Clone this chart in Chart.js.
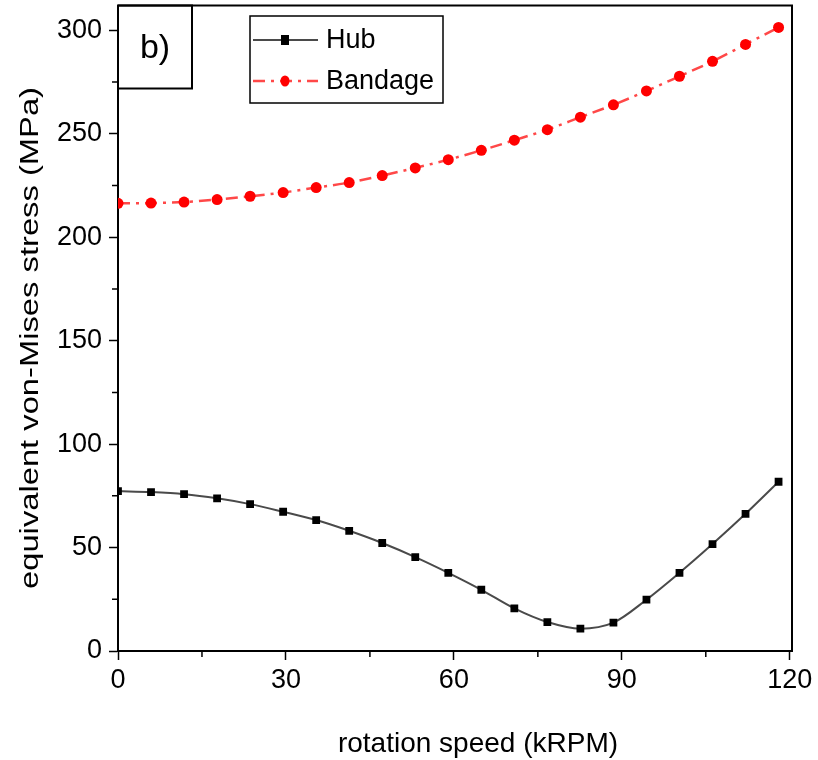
<!DOCTYPE html>
<html>
<head>
<meta charset="utf-8">
<script src="https://cdn.jsdelivr.net/npm/chart.js@4.4.1/dist/chart.umd.min.js"></script>
<style>
  html, body { margin: 0; padding: 0; background: #ffffff; }
  #wrap { width: 818px; height: 760px; position: relative; }
</style>
</head>
<body>
<div id="wrap"><canvas id="c" width="818" height="760"></canvas></div>
<script>
// ---- data ----
const speedKRPM = [0, 5.9, 11.8, 17.7, 23.6, 29.5, 35.4, 41.3, 47.2, 53.1, 59.0,
                   64.9, 70.8, 76.7, 82.6, 88.5, 94.4, 100.3, 106.2, 112.1, 118.0];
const hubStress = [77.3, 76.8, 75.8, 73.8, 71.0, 67.3, 63.3, 58.1, 52.2, 45.4, 37.8,
                   29.6, 20.6, 14.0, 10.8, 13.7, 24.8, 37.8, 51.7, 66.3, 81.8];
const bandageStress = [216.4, 216.5, 217.0, 218.2, 219.8, 221.6, 224.0, 226.4, 229.8, 233.5, 237.5,
                       242.0, 246.9, 252.0, 258.0, 264.0, 270.7, 277.8, 285.0, 293.2, 301.4];
const seriesNames = ["Hub", "Bandage"];
const xMajorTicks = [0, 30, 60, 90, 120];
const yMajorTicks = [0, 50, 100, 150, 200, 250, 300];
const xTitle = "rotation speed (kRPM)";
const yTitle = "equivalent von-Mises stress (MPa)";
const panelLabel = "b)";

const FONT = "'Liberation Sans', Arial, sans-serif";

function pts(xs, ys) { return xs.map((x, i) => ({ x: x, y: ys[i] })); }

const framePlugin = {
  id: 'framePlugin',
  afterDraw(chart) {
    const ctx = chart.ctx;
    const a = chart.chartArea;
    const xs = chart.scales.x, ys = chart.scales.y;
    ctx.save();
    // top and right frame
    ctx.strokeStyle = '#000';
    ctx.lineWidth = 2;
    ctx.beginPath();
    ctx.moveTo(a.left, a.top);
    ctx.lineTo(a.right, a.top);
    ctx.lineTo(a.right, a.bottom);
    ctx.stroke();
    // minor ticks
    ctx.lineWidth = 1.5;
    ctx.beginPath();
    for (let v = 15; v < 120; v += 30) {
      const px = xs.getPixelForValue(v);
      ctx.moveTo(px, a.bottom); ctx.lineTo(px, a.bottom + 6);
    }
    for (let v = 25; v < 300; v += 50) {
      const py = ys.getPixelForValue(v);
      ctx.moveTo(a.left, py); ctx.lineTo(a.left - 6, py);
    }
    ctx.stroke();

    // panel label box
    ctx.lineWidth = 2;
    ctx.strokeRect(a.left, a.top, 74, 83);
    ctx.fillStyle = '#000';
    ctx.font = '34px ' + FONT;
    ctx.textAlign = 'center';
    ctx.textBaseline = 'middle';
    ctx.fillText(panelLabel, a.left + 37, a.top + 43);

    // legend
    const lx = 250, ly = 16, lw = 193, lh = 87;
    ctx.lineWidth = 1.5;
    ctx.strokeStyle = '#000';
    ctx.strokeRect(lx, ly, lw, lh);
    chart.data.datasets.forEach((ds, i) => {
      const rowY = ly + 24 + i * 41;
      ctx.save();
      ctx.strokeStyle = ds.borderColor;
      ctx.lineWidth = ds.borderWidth;
      ctx.setLineDash(ds.borderDash || []);
      ctx.beginPath();
      ctx.moveTo(lx + 3, rowY); ctx.lineTo(lx + 68, rowY);
      ctx.stroke();
      ctx.setLineDash([]);
      ctx.fillStyle = ds.pointBackgroundColor;
      if (ds.pointStyle === 'rect') {
        ctx.fillRect(lx + 35 - 4, rowY - 5, 8, 10);
      } else {
        ctx.beginPath();
        ctx.ellipse(lx + 35, rowY, 4.5, 5.5, 0, 0, Math.PI * 2);
        ctx.fill();
      }
      ctx.restore();
      ctx.fillStyle = '#000';
      ctx.font = '27px ' + FONT;
      ctx.textAlign = 'left';
      ctx.textBaseline = 'middle';
      ctx.fillText(ds.label, lx + 76, rowY + 1);
    });

    // axis titles
    ctx.fillStyle = '#000';
    ctx.font = '28px ' + FONT;
    ctx.textAlign = 'center';
    ctx.textBaseline = 'middle';
    ctx.fillText(xTitle, 478, 744);

    ctx.save();
    ctx.translate(31, 338);
    ctx.rotate(-Math.PI / 2);
    ctx.font = '25px ' + FONT;
    const w = ctx.measureText(yTitle).width;
    ctx.scale(502 / w, 1);
    ctx.fillText(yTitle, 0, 0);
    ctx.restore();

    ctx.restore();
  }
};

new Chart(document.getElementById('c'), {
  type: 'line',
  data: {
    datasets: [
      {
        label: seriesNames[0],
        data: pts(speedKRPM, hubStress),
        borderColor: '#4a4a4a',
        borderWidth: 2,
        pointStyle: 'rect',
        pointRadius: 5.5,
        pointBackgroundColor: '#000000',
        pointBorderColor: '#000000',
        pointBorderWidth: 0,
        cubicInterpolationMode: 'monotone',
        fill: false
      },
      {
        label: seriesNames[1],
        data: pts(speedKRPM, bandageStress),
        borderColor: 'rgba(255,40,40,0.85)',
        borderWidth: 2.5,
        borderDash: [12, 6, 3, 6],
        pointStyle: 'circle',
        pointRadius: 5.5,
        pointBackgroundColor: '#ff0000',
        pointBorderColor: '#ff0000',
        pointBorderWidth: 0,
        cubicInterpolationMode: 'monotone',
        fill: false
      }
    ]
  },
  options: {
    responsive: false,
    animation: false,
    devicePixelRatio: 1,
    layout: { padding: { top: 5, right: 26, left: 0, bottom: 0 } },
    plugins: {
      legend: { display: false },
      tooltip: { enabled: false },
      title: { display: false }
    },
    scales: {
      x: {
        type: 'linear',
        min: 0,
        max: 120.4,
        afterBuildTicks(scale) { scale.ticks = xMajorTicks.map(v => ({ value: v })); },
        afterFit(scale) { scale.height = 109; scale.paddingLeft = 0; scale.paddingRight = 0; },
        ticks: {
          color: '#000',
          font: { family: FONT, size: 27 },
          padding: 4,
          maxRotation: 0,
          autoSkip: false
        },
        grid: {
          display: true,
          drawOnChartArea: false,
          tickLength: 9,
          tickWidth: 1.5,
          tickColor: '#000'
        },
        border: { display: true, color: '#000', width: 2 },
        title: { display: false }
      },
      y: {
        type: 'linear',
        min: 0,
        max: 312,
        afterBuildTicks(scale) { scale.ticks = yMajorTicks.map(v => ({ value: v })); },
        afterFit(scale) { scale.width = 118; scale.paddingTop = 0; scale.paddingBottom = 0; },
        ticks: {
          color: '#000',
          font: { family: FONT, size: 27 },
          padding: 7,
          autoSkip: false
        },
        grid: {
          display: true,
          drawOnChartArea: false,
          tickLength: 9,
          tickWidth: 1.5,
          tickColor: '#000'
        },
        border: { display: true, color: '#000', width: 2 },
        title: { display: false }
      }
    }
  },
  plugins: [framePlugin]
});
</script>
</body>
</html>
